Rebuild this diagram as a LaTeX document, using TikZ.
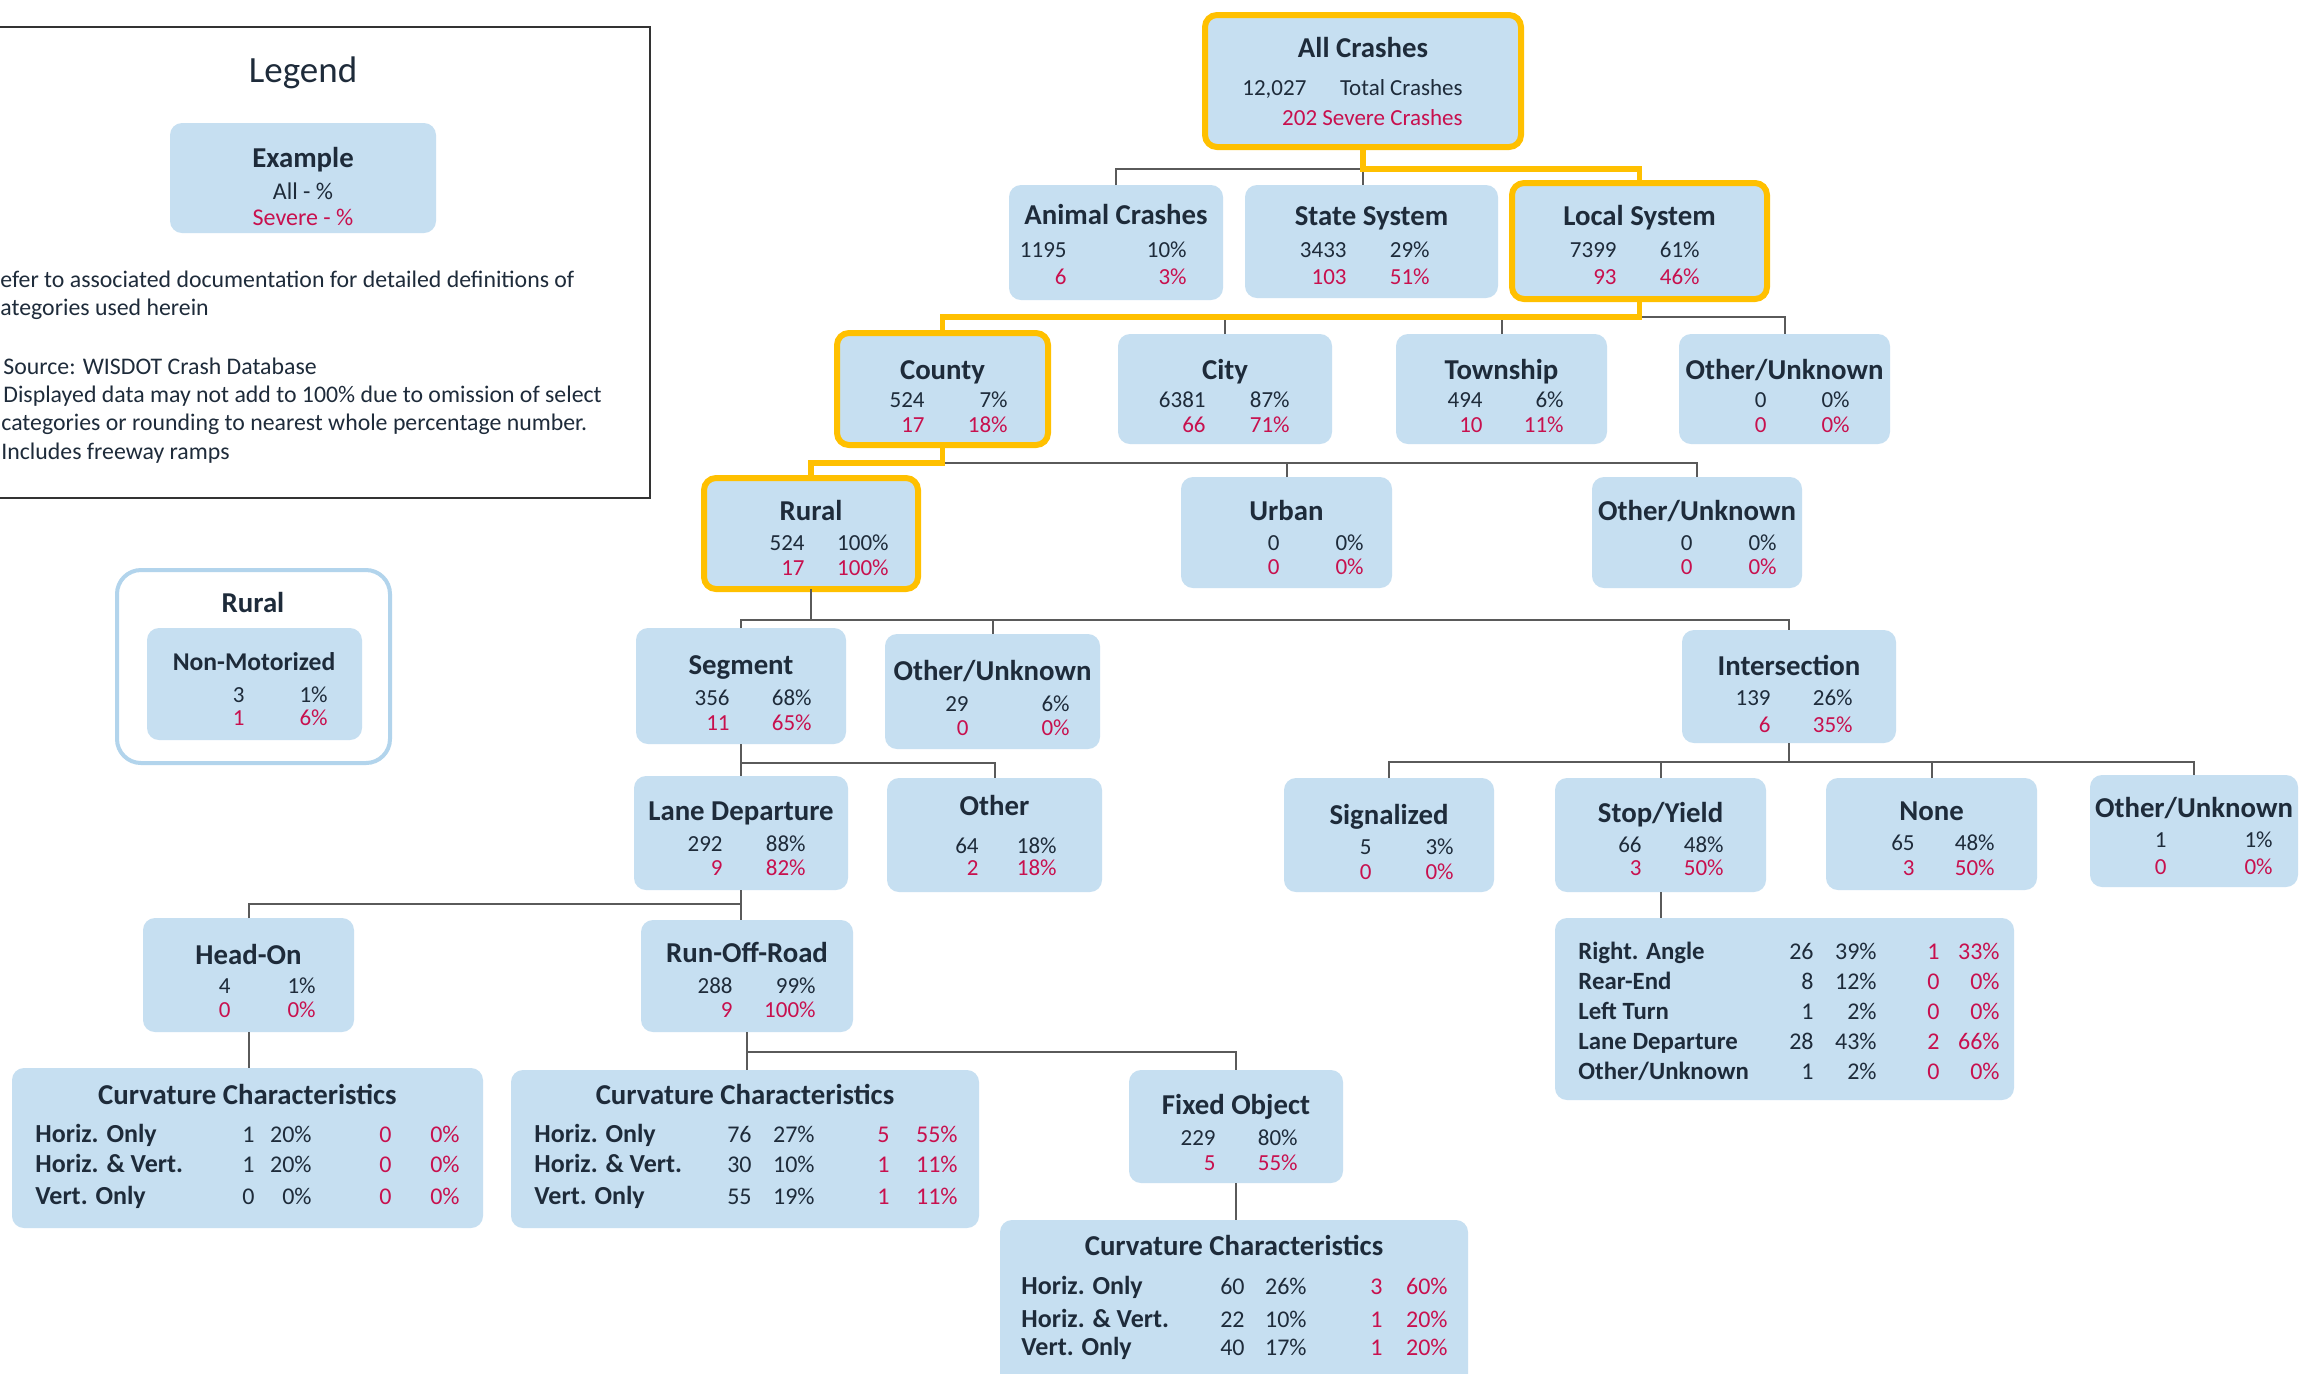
\documentclass[tikz,border=0pt]{standalone}
\usepackage{fontspec}
\setmainfont{Carlito}
\usetikzlibrary{fit}
\definecolor{boxblue}{HTML}{C6DFF1}
\definecolor{hl}{HTML}{FFC000}
\definecolor{ink}{HTML}{1E2B3A}
\definecolor{sevred}{HTML}{C8104E}
\definecolor{linegray}{HTML}{5A5A5A}
\definecolor{ruralline}{HTML}{B2D4EC}
\tikzset{
  box/.style={rectangle, rounded corners=6pt, fill=boxblue, inner sep=0pt, outer sep=0pt},
  hlbox/.style={draw=hl, line width=3pt},
  ttl/.style={anchor=mid, inner sep=0pt, yshift=-1.5pt, text=ink, font=\fontsize{14.4}{17}\selectfont\bfseries},
  val/.style={anchor=mid east, inner sep=0pt, yshift=-1.5pt, text=ink, font=\fontsize{11.5}{14}\selectfont},
  sev/.style={val, text=sevred},
  tlab/.style={anchor=mid west, inner sep=0pt, yshift=-1.5pt, text=ink, font=\fontsize{13}{15}\selectfont\bfseries},
  tval/.style={anchor=mid east, inner sep=0pt, yshift=-1.5pt, text=ink, font=\fontsize{12}{14}\selectfont},
  tsev/.style={tval, text=sevred},
  conn/.style={draw=linegray, line width=1pt},
  hlconn/.style={draw=hl, line width=2.8pt},
  legtxt/.style={anchor=mid west, inner sep=0pt, yshift=-1.5pt, text=ink, font=\fontsize{11.9}{14}\selectfont},
  legframe/.style={rectangle, draw=black!80, line width=1pt, inner sep=0pt},
  ruralframe/.style={rectangle, draw=ruralline, line width=2pt, rounded corners=12pt, fill=white, inner sep=0pt}
}
\newcommand\plainbox[6]{%
  \node[box,#2,fit={(#3,#4)(#5,#6)}] (#1) {};}
\newcommand\databox[8]{%
  \plainbox{#1}{#2}{#3}{#4}{#5}{#6}
  \node[ttl] (#1-t) at ({(#3+#5)/2},#8) {#7};}
\newcommand\datarows[9]{%
  \node[val] (#1-a) at (#4,#2) {#6};
  \node[val] (#1-pa) at (#5,#2) {#7};
  \node[sev] (#1-b) at (#4,#3) {#8};
  \node[sev] (#1-pb) at (#5,#3) {#9};}
\newcommand\tabrow[7]{%
  \node[tlab] (#1-l) at (\tcL,#2) {#3};
  \node[tval] (#1-1) at (\tcA,#2) {#4};
  \node[tval] (#1-2) at (\tcB,#2) {#5};
  \node[tsev] (#1-3) at (\tcC,#2) {#6};
  \node[tsev] (#1-4) at (\tcD,#2) {#7};}
\begin{document}
\begin{tikzpicture}[x=0.5pt,y=-0.5pt]
\useasboundingbox (0,0) rectangle (2300,1373);
\fill[white] (0,0) rectangle (2300,1373);

% ---------- Legend ----------
\node[legframe, fit={(-10,27)(650,498)}] (legend) {};
\node[anchor=mid, inner sep=0pt, yshift=-1.5pt, text=ink, font=\fontsize{18.5}{22}\selectfont] (legtitle) at (303,75) {Legend};
\plainbox{example}{}{170}{123}{436}{233}
\node[ttl, font=\fontsize{14.4}{17}\selectfont\bfseries] (example-t) at (303,160) {Example};
\node[val, anchor=mid, font=\fontsize{12}{14}\selectfont] (example-a) at (303,192) {All - \%};
\node[sev, anchor=mid, font=\fontsize{12}{14}\selectfont] (example-b) at (303,218) {Severe - \%};
\node[legtxt] (leg1) at (0,280) {efer to associated documentation for detailed definitions of};
\node[legtxt] (leg2) at (0,308) {ategories used herein};
\node[legtxt] (leg3) at (3,367) {Source: WISDOT Crash Database};
\node[legtxt] (leg4) at (3,395) {Displayed data may not add to 100\% due to omission of select};
\node[legtxt] (leg5) at (1,423) {categories or rounding to nearest whole percentage number.};
\node[legtxt] (leg6) at (1,452) {Includes freeway ramps};

% ---------- Rural non-motorized legend ----------
\node[ruralframe, fit={(117,570)(390,763)}] (ruralleg) {};
\node[ttl] (ruralleg-t) at (253,605) {Rural};
\plainbox{nonmot}{}{147}{628}{362}{740}
\node[ttl, font=\fontsize{12.8}{15}\selectfont\bfseries] (nonmot-t) at (254,663) {Non-Motorized};
\datarows{nonmot}{695}{718}{245}{328}{3}{1\%}{1}{6\%}

% ---------- Tree boxes ----------
\plainbox{all}{hlbox}{1205}{15}{1521}{147}
\node[ttl] (all-t) at (1363,50) {All Crashes};
\node[val, anchor=mid west] (all-n) at (1242,88) {12,027};
\node[val] (all-l) at (1463,88) {Total Crashes};
\node[sev] (all-s) at (1463,118) {202 Severe Crashes};

\databox{animal}{}{1009}{185}{1223}{300}{Animal Crashes}{217}
\datarows{animal}{250}{277}{1067}{1187}{1195}{10\%}{6}{3\%}
\databox{state}{}{1245}{185}{1498}{298}{State System}{218}
\datarows{state}{250}{277}{1347}{1430}{3433}{29\%}{103}{51\%}
\databox{local}{hlbox}{1512}{183}{1767}{299}{Local System}{218}
\datarows{local}{250}{277}{1617}{1700}{7399}{61\%}{93}{46\%}

\databox{county}{hlbox}{837}{333}{1048}{445}{County}{372}
\datarows{county}{400}{425}{925}{1008}{524}{7\%}{17}{18\%}
\databox{city}{}{1118}{334}{1332}{444}{City}{372}
\datarows{city}{400}{425}{1206}{1290}{6381}{87\%}{66}{71\%}
\databox{township}{}{1396}{334}{1607}{444}{Township}{372}
\datarows{township}{400}{425}{1483}{1564}{494}{6\%}{10}{11\%}
\databox{otherA}{}{1679}{334}{1890}{444}{Other/Unknown}{372}
\datarows{otherA}{400}{425}{1767}{1850}{0}{0\%}{0}{0\%}

\databox{rural}{hlbox}{704}{478}{918}{589}{Rural}{513}
\datarows{rural}{543}{568}{805}{889}{524}{100\%}{17}{100\%}
\databox{urban}{}{1181}{477}{1392}{588}{Urban}{513}
\datarows{urban}{543}{567}{1280}{1364}{0}{0\%}{0}{0\%}
\databox{otherB}{}{1592}{477}{1802}{588}{Other/Unknown}{513}
\datarows{otherB}{543}{567}{1693}{1777}{0}{0\%}{0}{0\%}

\databox{segment}{}{636}{628}{846}{744}{Segment}{667}
\datarows{segment}{698}{723}{730}{812}{356}{68\%}{11}{65\%}
\databox{otherC}{}{885}{634}{1100}{749}{Other/Unknown}{673}
\datarows{otherC}{704}{728}{969}{1070}{29}{6\%}{0}{0\%}
\databox{intersection}{}{1682}{630}{1896}{743}{Intersection}{668}
\datarows{intersection}{698}{725}{1771}{1853}{139}{26\%}{6}{35\%}

\databox{lanedep}{}{634}{776}{848}{890}{Lane Departure}{813}
\datarows{lanedep}{844}{868}{723}{806}{292}{88\%}{9}{82\%}
\databox{otherD}{}{887}{778}{1102}{892}{Other}{808}
\datarows{otherD}{846}{868}{979}{1057}{64}{18\%}{2}{18\%}
\databox{signalized}{}{1284}{778}{1494}{892}{Signalized}{817}
\datarows{signalized}{847}{872}{1372}{1454}{5}{3\%}{0}{0\%}
\databox{stopyield}{}{1555}{778}{1766}{892}{Stop/Yield}{815}
\datarows{stopyield}{845}{868}{1642}{1724}{66}{48\%}{3}{50\%}
\databox{none}{}{1826}{778}{2037}{890}{None}{813}
\datarows{none}{843}{868}{1915}{1995}{65}{48\%}{3}{50\%}
\databox{otherE}{}{2090}{775}{2298}{887}{Other/Unknown}{810}
\datarows{otherE}{840}{867}{2167}{2273}{1}{1\%}{0}{0\%}

\databox{headon}{}{143}{918}{354}{1032}{Head-On}{957}
\datarows{headon}{986}{1010}{231}{316}{4}{1\%}{0}{0\%}
\databox{ror}{}{641}{920}{853}{1032}{Run-Off-Road}{955}
\datarows{ror}{986}{1010}{733}{816}{288}{99\%}{9}{100\%}
\databox{fixed}{}{1129}{1070}{1343}{1183}{Fixed Object}{1107}
\datarows{fixed}{1138}{1163}{1216}{1298}{229}{80\%}{5}{55\%}

% ---------- Tables ----------
\databox{curv1}{}{12}{1068}{483}{1228}{Curvature Characteristics}{1097}
\def\tcL{35}\def\tcA{255}\def\tcB{312}\def\tcC{392}\def\tcD{460}
\tabrow{c1r1}{1135}{Horiz. Only}{1}{20\%}{0}{0\%}
\tabrow{c1r2}{1165}{Horiz. \& Vert.}{1}{20\%}{0}{0\%}
\tabrow{c1r3}{1197}{Vert. Only}{0}{0\%}{0}{0\%}

\databox{curv2}{}{511}{1070}{979}{1228}{Curvature Characteristics}{1097}
\def\tcL{534}\def\tcA{752}\def\tcB{815}\def\tcC{890}\def\tcD{958}
\tabrow{c2r1}{1135}{Horiz. Only}{76}{27\%}{5}{55\%}
\tabrow{c2r2}{1165}{Horiz. \& Vert.}{30}{10\%}{1}{11\%}
\tabrow{c2r3}{1197}{Vert. Only}{55}{19\%}{1}{11\%}

\databox{curv3}{}{1000}{1220}{1468}{1395}{Curvature Characteristics}{1248}
\def\tcL{1021}\def\tcA{1245}\def\tcB{1307}\def\tcC{1383}\def\tcD{1448}
\tabrow{c3r1}{1287}{Horiz. Only}{60}{26\%}{3}{60\%}
\tabrow{c3r2}{1320}{Horiz. \& Vert.}{22}{10\%}{1}{20\%}
\tabrow{c3r3}{1348}{Vert. Only}{40}{17\%}{1}{20\%}

\tikzset{tlab/.style={anchor=mid west, inner sep=0pt, yshift=-1.5pt, text=ink, font=\fontsize{12.4}{14}\selectfont\bfseries}}
\plainbox{stoptable}{}{1555}{918}{2014}{1100}
\def\tcL{1578}\def\tcA{1814}\def\tcB{1877}\def\tcC{1940}\def\tcD{2000}
\tabrow{s1}{952}{Right. Angle}{26}{39\%}{1}{33\%}
\tabrow{s2}{982}{Rear-End}{8}{12\%}{0}{0\%}
\tabrow{s3}{1012}{Left Turn}{1}{2\%}{0}{0\%}
\tabrow{s4}{1042}{Lane Departure}{28}{43\%}{2}{66\%}
\tabrow{s5}{1072}{Other/Unknown}{1}{2\%}{0}{0\%}

% ---------- Connectors ----------
\coordinate (bus1) at (0,169);
\coordinate (bus2) at (0,317);
\coordinate (bus3) at (0,463);
\coordinate (bus4) at (0,620);
\coordinate (bus5) at (0,763);
\coordinate (bus6) at (0,762);
\coordinate (bus7) at (0,904);
\coordinate (bus8) at (0,1052);

\draw[conn] (animal.north) |- (all.south |- bus1) -- (all.south |- state.north);
\draw[conn] (local.south |- bus2) -| (otherA.north);
\draw[conn] (city.north) -- (city.north |- bus2);
\draw[conn] (township.north) -- (township.north |- bus2);
\draw[conn] (county.south |- bus3) -| (otherB.north);
\draw[conn] (urban.north) -- (urban.north |- bus3);
\draw[conn] (rural.south) -- (rural.south |- bus4);
\draw[conn] (segment.north) |- (intersection.north |- bus4) -- (intersection.north);
\draw[conn] (otherC.north) -- (otherC.north |- bus4);
\draw[conn] (segment.south) -- (segment.south |- bus5);
\draw[conn] (lanedep.north) |- (otherD.north |- bus5) -- (otherD.north);
\draw[conn] (intersection.south) -- (intersection.south |- bus6);
\draw[conn] (signalized.north) |- (otherE.north |- bus6) -- (otherE.north);
\draw[conn] (stopyield.north) -- (stopyield.north |- bus6);
\draw[conn] (none.north) -- (none.north |- bus6);
\draw[conn] (stopyield.south) -- (stopyield.south |- stoptable.north);
\draw[conn] (lanedep.south) -- (lanedep.south |- ror.north);
\draw[conn] (headon.north) |- (lanedep.south |- bus7);
\draw[conn] (headon.south) -- (headon.south |- curv1.north);
\draw[conn] (ror.south) -- (ror.south |- curv2.north);
\draw[conn] (ror.south |- bus8) -| (fixed.north);
\draw[conn] (fixed.south) -- (fixed.south |- curv3.north);

\draw[hlconn] (all.south) |- (local.north |- bus1) -- (local.north);
\draw[hlconn] (local.south) |- (county.north |- bus2) -- (county.north);
\draw[hlconn] (county.south) |- (rural.north |- bus3) -- (rural.north);
\end{tikzpicture}
\end{document}
